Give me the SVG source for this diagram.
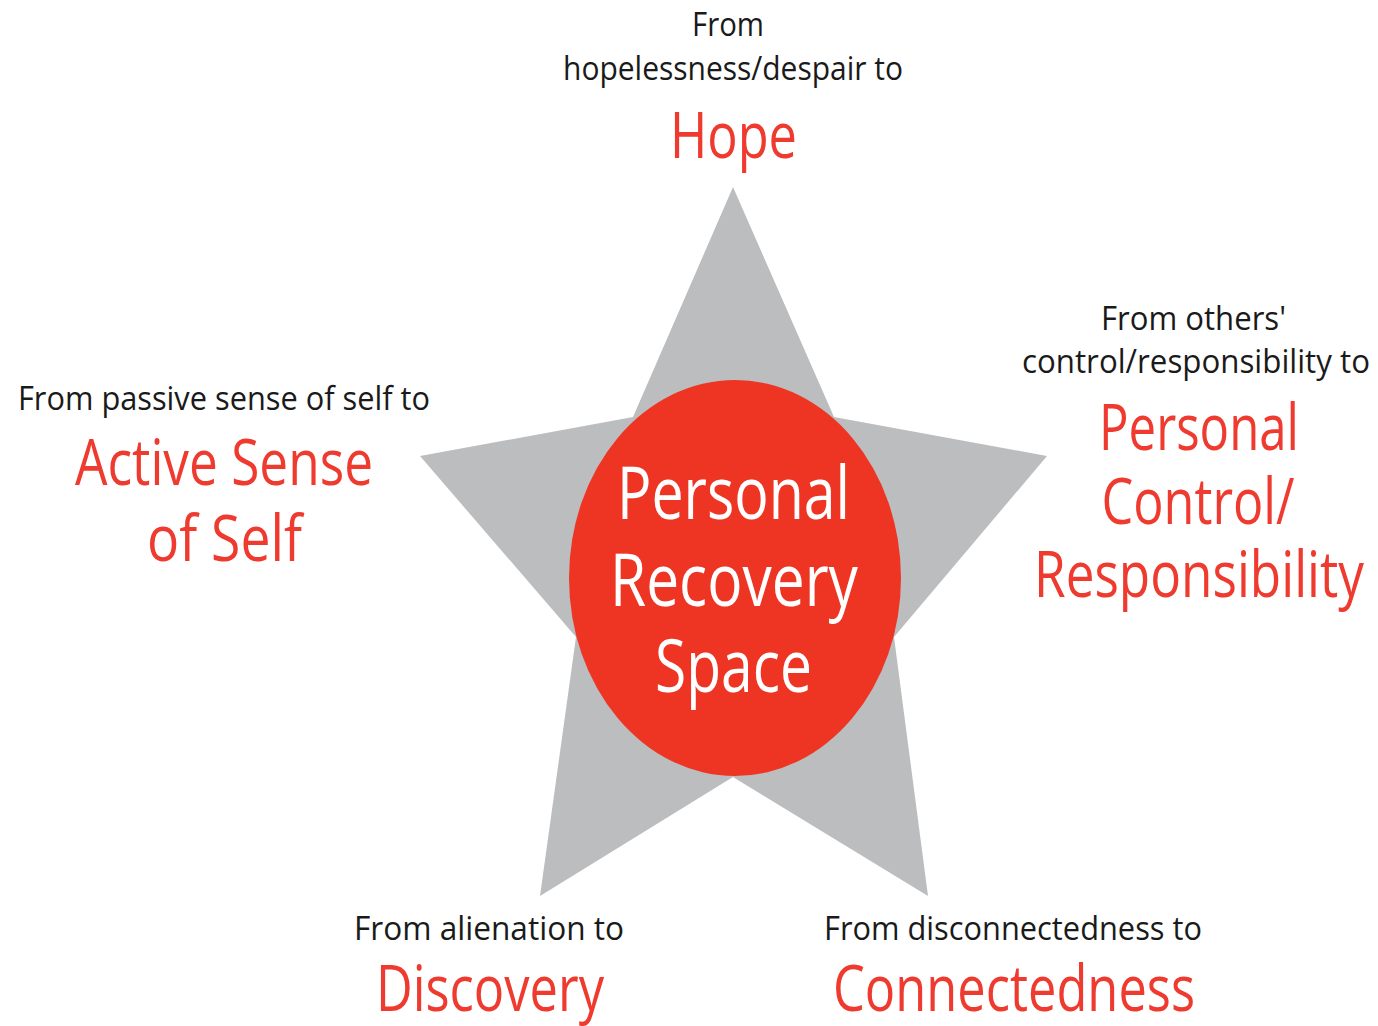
<svg xmlns="http://www.w3.org/2000/svg" width="1378" height="1026" viewBox="0 0 1378 1026">
<style>
.from{font-family:"Open Sans","Noto Sans",sans-serif;font-size:33px;fill:#1a1a1a;}
.goal{font-family:"Open Sans","Noto Sans",sans-serif;font-size:64px;fill:#ef3b2f;}
.core{font-family:"Open Sans","Noto Sans",sans-serif;font-size:73px;fill:#ffffff;}
</style>
<rect width="1378" height="1026" fill="#ffffff"/>
<g id="star">
<polygon points="733,187 834,417 1047,456 894,637 928,896 733,777 540,896 576,637 420,456 633,417" fill="#bcbdbf"/>
</g>
<g id="center">
<ellipse cx="735" cy="578" rx="166" ry="198" fill="#ee3524"/>
<text class="core" x="733.5" y="519" text-anchor="middle" textLength="233" lengthAdjust="spacingAndGlyphs">Personal</text>
<text class="core" x="734" y="606" text-anchor="middle" textLength="248" lengthAdjust="spacingAndGlyphs">Recovery</text>
<text class="core" x="733.5" y="692" text-anchor="middle" textLength="157" lengthAdjust="spacingAndGlyphs">Space</text>
</g>
<g id="hope">
<text class="from" x="728" y="36" text-anchor="middle" textLength="72" lengthAdjust="spacingAndGlyphs">From</text>
<text class="from" x="733" y="80" text-anchor="middle" textLength="340" lengthAdjust="spacingAndGlyphs">hopelessness/despair to</text>
<text class="goal" x="733.5" y="158" text-anchor="middle" textLength="127" lengthAdjust="spacingAndGlyphs">Hope</text>
</g>
<g id="active-sense">
<text class="from" x="224" y="410" text-anchor="middle" textLength="412" lengthAdjust="spacingAndGlyphs">From passive sense of self to</text>
<text class="goal" x="224" y="485" text-anchor="middle" textLength="298" lengthAdjust="spacingAndGlyphs">Active Sense</text>
<text class="goal" x="224.5" y="561" text-anchor="middle" textLength="155" lengthAdjust="spacingAndGlyphs">of Self</text>
</g>
<g id="personal-control">
<text class="from" x="1193.5" y="330" text-anchor="middle" textLength="185" lengthAdjust="spacingAndGlyphs">From others'</text>
<text class="from" x="1196" y="373" text-anchor="middle" textLength="348" lengthAdjust="spacingAndGlyphs">control/responsibility to</text>
<text class="goal" x="1199" y="450" text-anchor="middle" textLength="200" lengthAdjust="spacingAndGlyphs">Personal</text>
<text class="goal" x="1198" y="524" text-anchor="middle" textLength="193" lengthAdjust="spacingAndGlyphs">Control/</text>
<text class="goal" x="1199" y="597" text-anchor="middle" textLength="330" lengthAdjust="spacingAndGlyphs">Responsibility</text>
</g>
<g id="discovery">
<text class="from" x="489" y="940" text-anchor="middle" textLength="270" lengthAdjust="spacingAndGlyphs">From alienation to</text>
<text class="goal" x="490" y="1011" text-anchor="middle" textLength="228" lengthAdjust="spacingAndGlyphs">Discovery</text>
</g>
<g id="connectedness">
<text class="from" x="1013" y="940" text-anchor="middle" textLength="378" lengthAdjust="spacingAndGlyphs">From disconnectedness to</text>
<text class="goal" x="1014" y="1011" text-anchor="middle" textLength="362" lengthAdjust="spacingAndGlyphs">Connectedness</text>
</g>
<g id="connectors"></g>
</svg>
